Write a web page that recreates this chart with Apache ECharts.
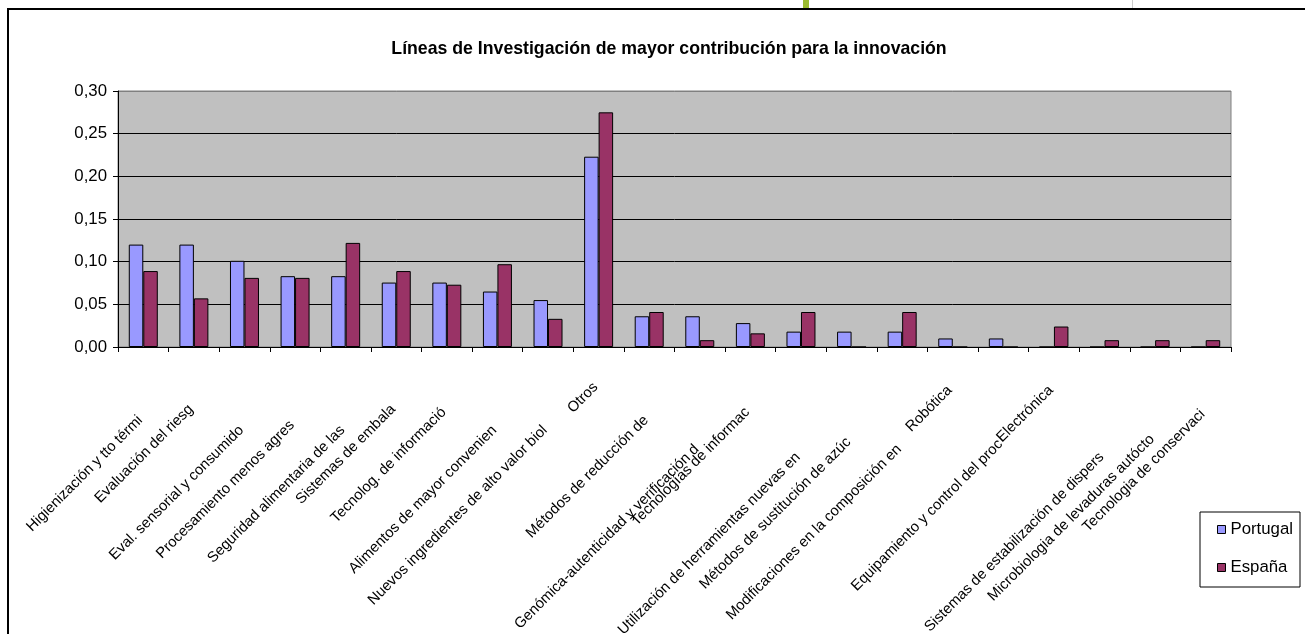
<!DOCTYPE html>
<html>
<head>
<meta charset="utf-8">
<script src="https://cdn.jsdelivr.net/npm/echarts@6/dist/echarts.min.js"></script>
<style>
html,body{margin:0;padding:0;background:#fff;}
#c{width:1305px;height:634px;}
</style>
</head>
<body>
<div id="c"></div>
<script>
// ---- data ----
const categories = [
  'Higienización y tto térmi',
  'Evaluación del riesg',
  'Eval. sensorial y consumido',
  'Procesamiento menos agres',
  'Seguridad alimentaria de las',
  'Sistemas de embala',
  'Tecnolog. de informació',
  'Alimentos de mayor convenien',
  'Nuevos ingredientes de alto valor biol',
  'Otros',
  'Métodos de reducción de',
  'Genómica-autenticidad y verificación d',
  'Tecnologías de informac',
  'Utilización de herramientas nuevas en',
  'Métodos de sustitución de azúc',
  'Modificaciones en la composición en',
  'Robótica',
  'Equipamiento y control del proc',
  'Electrónica',
  'Sistemas de estabilización de dispers',
  'Microbiologia de levaduras autócto',
  'Tecnologia de conservaci'
];
const portugal = [0.120, 0.120, 0.101, 0.083, 0.083, 0.0755, 0.0755, 0.065, 0.055, 0.223, 0.036,
                  0.036, 0.028, 0.018, 0.018, 0.018, 0.010, 0.010, 0, 0, 0, 0];
const espana   = [0.089, 0.057, 0.081, 0.081, 0.122, 0.089, 0.073, 0.097, 0.033, 0.275, 0.041,
                  0.008, 0.016, 0.041, 0, 0.041, 0, 0, 0.024, 0.008, 0.008, 0.008];
const seriesNames = ['Portugal', 'España'];
const yMin = 0, yMax = 0.30, yStep = 0.05;
const titleText = 'Líneas de Investigación de mayor contribución para la innovación';

// ---- style: vertical drop (px below axis) of each rotated label's upper end ----
const labelDrop = [66, 55, 76, 71, 76, 55, 58, 76, 76, 33, 66, 95, 58, 103, 88, 95, 36, 90, 36, 103, 85, 60];

function hasFont(name) {
  const ctx = document.createElement('canvas').getContext('2d');
  const s = 'Portugal España 0,30 Líneas';
  ctx.font = '40px monospace';
  const a = ctx.measureText(s).width;
  ctx.font = '40px "' + name + '", monospace';
  const b = ctx.measureText(s).width;
  return Math.abs(a - b) > 0.5;
}
const NARROW = hasFont('Liberation Sans Narrow');
const FAM = NARROW ? '"Liberation Sans Narrow", "Arial Narrow", sans-serif' : '"Liberation Sans", Arial, sans-serif';
const K = NARROW ? 1 : 0.82;
const fs = n => Math.round(n * K * 10) / 10;

const rich = {};
categories.forEach((c, i) => {
  const Sx = -3, Sy = labelDrop[i] - 3;
  const su = 0.7071 * (Sx - Sy), sv = 0.7071 * (Sx + Sy);
  rich['l' + i] = {
    fontFamily: FAM, fontSize: fs(18), color: '#000',
    padding: [Math.max(0, 2 * sv), Math.max(0, -su), 0, 0]
  };
});

const chart = echarts.init(document.getElementById('c'), null, {renderer: 'canvas'});
chart.setOption({
  backgroundColor: '#fff',
  animation: false,
  title: {
    text: titleText,
    left: 664, top: 35, textAlign: 'center',
    textStyle: {fontFamily: FAM, fontWeight: 'bold', fontSize: fs(21.6), color: '#000'}
  },
  legend: {
    orient: 'vertical', left: 1200, top: 512,
    data: seriesNames,
    icon: 'rect', itemWidth: 8, itemHeight: 8, itemGap: 21,
    padding: [9, 7, 11, 17],
    borderColor: '#000', borderWidth: 1, backgroundColor: '#fff',
    textStyle: {fontFamily: FAM, fontSize: fs(20.5), color: '#000'},
    itemStyle: {borderColor: '#000', borderWidth: 1}
  },
  grid: {
    left: 118, right: 74, top: 91, bottom: 287,
    containLabel: false, outerBoundsMode: 'none',
    show: true, backgroundColor: '#C0C0C0', borderColor: '#808080', borderWidth: 1
  },
  xAxis: {
    type: 'category', data: categories, boundaryGap: true,
    axisLine: {lineStyle: {color: '#000', width: 1}},
    axisTick: {show: true, alignWithLabel: false, length: 5, lineStyle: {color: '#000'}},
    axisLabel: {
      interval: 0, rotate: 45, margin: 8, color: '#000',
      fontFamily: FAM, fontSize: fs(18),
      formatter: (v, i) => '{l' + i + '|' + v + '}',
      rich: rich
    },
    splitLine: {show: false}
  },
  yAxis: {
    type: 'value', min: yMin, max: yMax, interval: yStep,
    axisLine: {show: true, lineStyle: {color: '#000'}},
    axisTick: {show: true, length: 5, lineStyle: {color: '#000'}},
    axisLabel: {
      margin: 11, color: '#000', fontFamily: FAM, fontSize: fs(20.5),
      formatter: v => v.toFixed(2).replace('.', ',')
    },
    splitLine: {show: true, lineStyle: {color: ['#000', '#000', '#000', '#000', '#000', '#000', '#808080'], width: 1}}
  },
  series: [
    {name: seriesNames[0], type: 'bar', data: portugal, barWidth: 14.5, barGap: '0%',
     itemStyle: {color: '#9999FF', borderColor: '#000', borderWidth: 1}},
    {name: seriesNames[1], type: 'bar', data: espana, barWidth: 14.5, barGap: '0%',
     itemStyle: {color: '#993366', borderColor: '#000', borderWidth: 1}}
  ],
  graphic: [
    {type: 'rect', z: -10, silent: true, shape: {x: 8, y: 9, width: 1400, height: 800},
     style: {fill: null, stroke: '#000', lineWidth: 2}},
    {type: 'rect', silent: true, shape: {x: 803, y: 0, width: 6, height: 8}, style: {fill: '#9BBB2F'}},
    {type: 'rect', silent: true, shape: {x: 1132, y: 0, width: 1, height: 8}, style: {fill: '#cccccc'}}
  ]
});
</script>
</body>
</html>
